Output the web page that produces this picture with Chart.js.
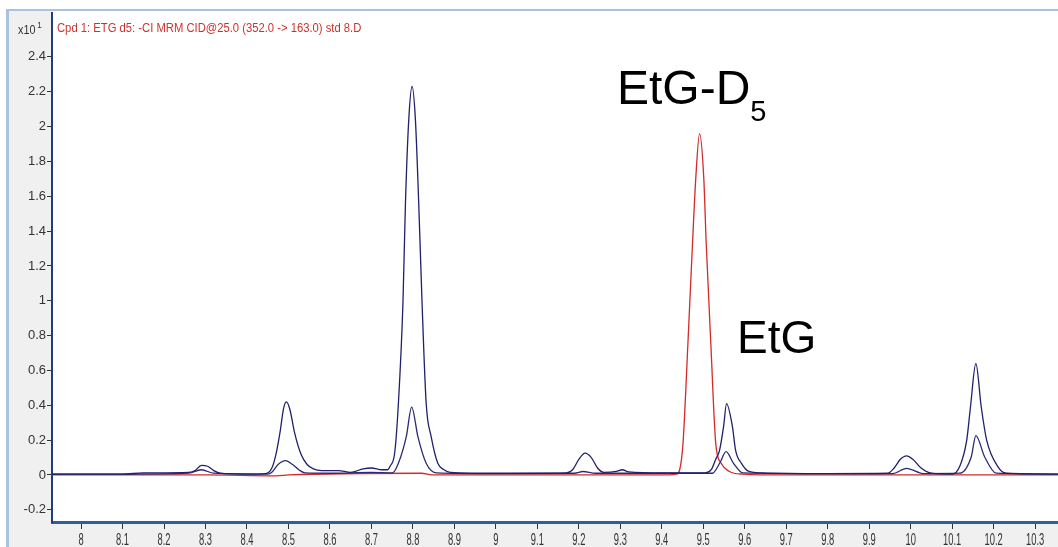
<!DOCTYPE html>
<html>
<head>
<meta charset="utf-8">
<script src="https://cdn.jsdelivr.net/npm/chart.js@4.4.1/dist/chart.umd.min.js"></script>
<style>
  html, body { margin: 0; padding: 0; background: #fff; }
  .wrap { position: relative; width: 1058px; height: 547px; overflow: hidden; }
  .label { position: absolute; white-space: nowrap; font-family: "Liberation Sans", Arial, sans-serif; }
  .scale_note { left: 18px; top: 21px; font-size: 12px; color: #333; transform: scaleX(0.9); transform-origin: left top; }
  .scale_note sup { font-size: 9px; position: relative; top: -1px; margin-left: 2px; }
  .trace_title { left: 57px; top: 21px; font-size: 12.5px; color: #d0312d; transform: scaleX(0.9); transform-origin: left top; }
  .peak_name { color: #000; }
  .peak_name .sub { font-size: 29px; position: relative; top: 17px; }
  .etg_d5 { left: 617px; top: 64px; font-size: 48px; line-height: 48px; }
  .etg { left: 737px; top: 314px; font-size: 46px; line-height: 46px; }
</style>
</head>
<body>
<div class="wrap">
  <canvas id="myChart" width="1058" height="547"></canvas>
  <div class="label scale_note">x10<sup>1</sup></div>
  <div class="label trace_title">Cpd 1: ETG d5: -CI MRM CID@25.0 (352.0 -&gt; 163.0) std 8.D</div>
  <div class="label peak_name etg_d5">EtG-D<span class="sub">5</span></div>
  <div class="label peak_name etg">EtG</div>
</div>
<script>
// retention time (min) / abundance (x10^1)
const quantTimes = [7.93, 8.0, 8.1, 8.15, 8.26, 8.275, 8.29, 8.305, 8.32, 8.335, 8.4, 8.445, 8.46, 8.47, 8.48, 8.488, 8.495, 8.503, 8.515, 8.53, 8.545, 8.56, 8.58, 8.62, 8.65, 8.68, 8.7, 8.725, 8.739, 8.745, 8.756, 8.765, 8.776, 8.782, 8.79, 8.798, 8.806, 8.814, 8.822, 8.832, 8.844, 8.86, 8.875, 8.89, 9.0, 9.1, 9.17, 9.185, 9.2, 9.215, 9.23, 9.245, 9.26, 9.29, 9.305, 9.32, 9.4, 9.505, 9.519, 9.53, 9.539, 9.549, 9.556, 9.57, 9.578, 9.592, 9.61, 9.64, 9.8, 9.945, 9.96, 9.975, 9.99, 10.005, 10.025, 10.05, 10.1, 10.118, 10.135, 10.144, 10.157, 10.17, 10.183, 10.21, 10.23, 10.355];
const quantValues = [0.005, 0.005, 0.005, 0.012, 0.015, 0.025, 0.055, 0.05, 0.025, 0.01, 0.005, 0.008, 0.04, 0.12, 0.25, 0.38, 0.42, 0.38, 0.24, 0.12, 0.06, 0.035, 0.025, 0.025, 0.015, 0.035, 0.04, 0.03, 0.03, 0.05, 0.126, 0.41, 0.99, 1.56, 2.04, 2.23, 2.04, 1.56, 0.99, 0.41, 0.22, 0.067, 0.03, 0.015, 0.01, 0.01, 0.012, 0.03, 0.09, 0.125, 0.1, 0.04, 0.015, 0.02, 0.03, 0.018, 0.012, 0.012, 0.03, 0.09, 0.14, 0.28, 0.41, 0.28, 0.14, 0.067, 0.02, 0.012, 0.008, 0.01, 0.04, 0.09, 0.11, 0.09, 0.04, 0.01, 0.005, 0.048, 0.2, 0.39, 0.64, 0.39, 0.2, 0.048, 0.01, 0.005];

const qualTimes = [7.93, 8.1, 8.26, 8.29, 8.32, 8.45, 8.46, 8.475, 8.493, 8.51, 8.525, 8.54, 8.6, 8.7, 8.751, 8.765, 8.784, 8.797, 8.812, 8.832, 8.856, 9.0, 9.19, 9.21, 9.24, 9.4, 9.522, 9.54, 9.555, 9.572, 9.595, 9.8, 9.956, 9.99, 10.03, 10.118, 10.146, 10.157, 10.178, 10.206, 10.355];
const qualValues = [0.005, 0.005, 0.01, 0.03, 0.01, 0.005, 0.015, 0.06, 0.082, 0.06, 0.03, 0.012, 0.01, 0.015, 0.012, 0.067, 0.22, 0.39, 0.22, 0.067, 0.012, 0.008, 0.01, 0.02, 0.01, 0.01, 0.01, 0.07, 0.134, 0.07, 0.012, 0.008, 0.008, 0.038, 0.008, 0.01, 0.105, 0.226, 0.105, 0.01, 0.005];

const istdTimes = [7.93, 8.3, 8.47, 8.5, 8.82, 8.85, 9.4, 9.435, 9.443, 9.451, 9.463, 9.474, 9.482, 9.491, 9.501, 9.507, 9.518, 9.53, 9.543, 9.563, 9.595, 9.7, 10.355];
const istdValues = [0, 0, -0.005, 0, 0.01, 0, 0, 0.005, 0.03, 0.18, 0.76, 1.33, 1.71, 1.96, 1.71, 1.33, 0.76, 0.18, 0.067, 0.02, 0.005, 0, 0];

const xTickValues = [8, 8.1, 8.2, 8.3, 8.4, 8.5, 8.6, 8.7, 8.8, 8.9, 9, 9.1, 9.2, 9.3, 9.4, 9.5, 9.6, 9.7, 9.8, 9.9, 10, 10.1, 10.2, 10.3];
const xTickLabels = ["8", "8.1", "8.2", "8.3", "8.4", "8.5", "8.6", "8.7", "8.8", "8.9", "9", "9.1", "9.2", "9.3", "9.4", "9.5", "9.6", "9.7", "9.8", "9.9", "10", "10.1", "10.2", "10.3"];
const yTickValues = [-0.2, 0, 0.2, 0.4, 0.6, 0.8, 1, 1.2, 1.4, 1.6, 1.8, 2, 2.2, 2.4];
const yTickLabels = ["-0.2", "0", "0.2", "0.4", "0.6", "0.8", "1", "1.2", "1.4", "1.6", "1.8", "2", "2.2", "2.4"];

const toPoints = (times, values) => times.map((t, i) => ({ x: t, y: values[i] }));

// grey panel and light blue window frame behind the plot
const framePlugin = {
  id: "frame",
  beforeDraw: (chart) => {
    const { ctx, chartArea } = chart;
    ctx.save();
    ctx.fillStyle = "#ffffff";
    ctx.fillRect(0, 0, chart.width, chart.height);
    ctx.fillStyle = "#f0f0f0";
    ctx.fillRect(9, 11, chartArea.left - 9, chart.height - 11);
    ctx.fillRect(9, chartArea.bottom, chart.width - 9, chart.height - chartArea.bottom);
    ctx.fillStyle = "#a9c2de";
    ctx.fillRect(6, 9, 3, chart.height - 9);
    ctx.fillRect(6, 9, chart.width - 6, 2);
    ctx.restore();
  },
};

// x tick labels: the instrument software uses a tall condensed face
const xLabelPlugin = {
  id: "xLabels",
  afterDraw: (chart) => {
    const { ctx } = chart;
    const xScale = chart.scales.x;
    ctx.save();
    ctx.fillStyle = "#333";
    ctx.font = "12px 'Liberation Sans', Arial, sans-serif";
    ctx.textAlign = "center";
    ctx.textBaseline = "top";
    xScale.ticks.forEach((tick, i) => {
      const px = xScale.getPixelForValue(tick.value);
      ctx.save();
      ctx.translate(px, xScale.top + 9);
      ctx.scale(0.78, 1.45);
      ctx.fillText(xTickLabels[i], 0, 0);
      ctx.restore();
    });
    ctx.restore();
  },
};

const lineSet = (label, times, values, color) => ({
  label: label,
  data: toPoints(times, values),
  borderColor: color,
  borderWidth: 1.3,
  pointRadius: 0,
  fill: false,
  cubicInterpolationMode: "monotone",
});

const ctx = document.getElementById("myChart").getContext("2d");
const myChart = new Chart(ctx, {
  type: "line",
  data: {
    datasets: [
      lineSet("quantifier", quantTimes, quantValues, "#20206e"),
      lineSet("qualifier", qualTimes, qualValues, "#2a2a78"),
      lineSet("EtG-D5", istdTimes, istdValues, "#d42a2a"),
    ],
  },
  options: {
    responsive: false,
    animation: false,
    devicePixelRatio: 1,
    layout: { padding: { top: 13, left: 0, right: 0, bottom: 0 } },
    plugins: {
      legend: { display: false },
      tooltip: { enabled: false },
    },
    scales: {
      x: {
        type: "linear",
        min: 7.93,
        max: 10.355,
        afterBuildTicks: (scale) => {
          scale.ticks = xTickValues.map((v) => ({ value: v }));
        },
        afterFit: (scale) => {
          scale.height = 25;
        },
        border: { display: true, color: "#2f5f9a", width: 3 },
        grid: { drawOnChartArea: false, drawTicks: true, tickLength: 7, tickColor: "#333", tickWidth: 1 },
        ticks: {
          display: false,
          autoSkip: false,
          maxRotation: 0,
        },
      },
      y: {
        type: "linear",
        min: -0.27,
        max: 2.652,
        afterBuildTicks: (scale) => {
          scale.ticks = yTickValues.map((v) => ({ value: v }));
        },
        afterFit: (scale) => {
          scale.width = 52;
        },
        border: { display: true, color: "#1f3d7a", width: 2 },
        grid: { drawOnChartArea: false, drawTicks: true, tickLength: 5, tickColor: "#333", tickWidth: 1 },
        ticks: {
          autoSkip: false,
          padding: 1,
          color: "#333",
          font: { family: "'Liberation Sans', Arial, sans-serif", size: 13 },
          callback: (value, index) => yTickLabels[index],
        },
      },
    },
  },
  plugins: [framePlugin, xLabelPlugin],
});
</script>
</body>
</html>
